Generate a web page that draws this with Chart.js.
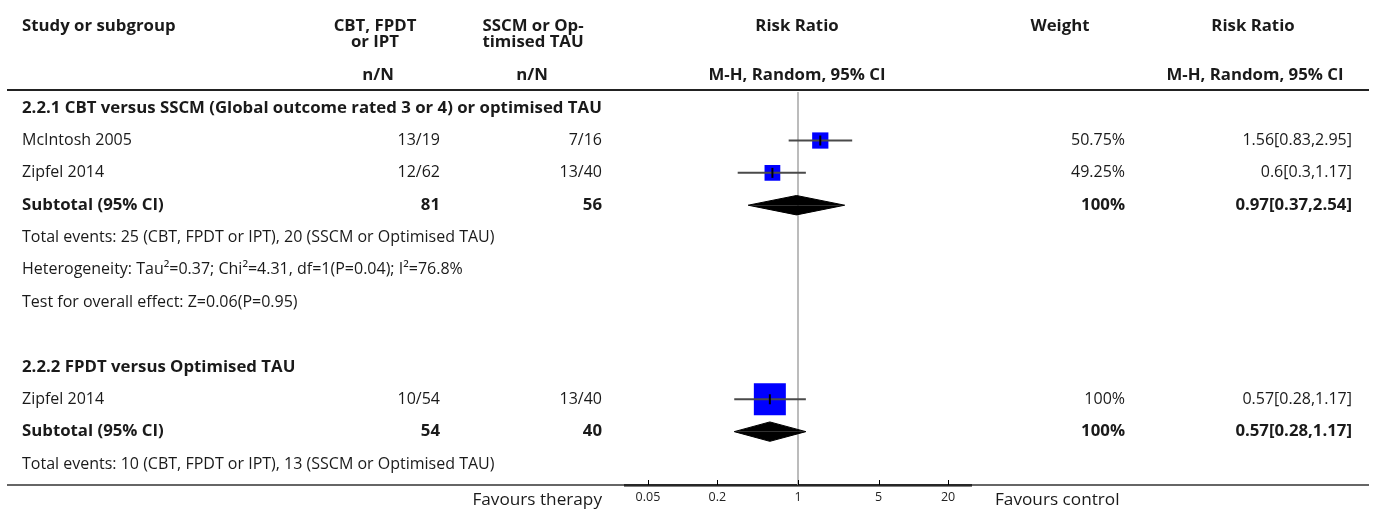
<!DOCTYPE html>
<html>
<head>
<meta charset="utf-8">
<title>Forest plot: CBT, FPDT or IPT versus SSCM or optimised TAU</title>
<script src="https://cdn.jsdelivr.net/npm/chart.js@4.4.1/dist/chart.umd.min.js"></script>
<style>
  html, body { margin: 0; padding: 0; background: #ffffff; }
  #wrap { width: 1375px; height: 510px; position: relative; }
</style>
</head>
<body>
<div id="wrap"><canvas id="forest" width="1375" height="510"></canvas></div>
<script>
// ---- study-level data ----
const studyNames   = ['McIntosh 2005', 'Zipfel 2014', 'Zipfel 2014'];
const studyRows    = [1, 2, 9];
const eventsTher   = ['13/19', '12/62', '10/54'];
const eventsCtrl   = ['7/16', '13/40', '13/40'];
const riskRatio    = [1.56, 0.6, 0.57];
const ciLower      = [0.83, 0.3, 0.28];
const ciUpper      = [2.95, 1.17, 1.17];
const weightPct    = [50.75, 49.25, 100];
const weightLabels = ['50.75%', '49.25%', '100%'];
const rrLabels     = ['1.56[0.83,2.95]', '0.6[0.3,1.17]', '0.57[0.28,1.17]'];

// ---- subgroup totals ----
const subRows      = [3, 10];
const subTotTher   = ['81', '54'];
const subTotCtrl   = ['56', '40'];
const subRR        = [0.97, 0.57];
const subLower     = [0.37, 0.28];
const subUpper     = [2.54, 1.17];
const subWeight    = ['100%', '100%'];
const subRRLabels  = ['0.97[0.37,2.54]', '0.57[0.28,1.17]'];

// ---- headings and notes ----
const headingRows  = [0, 8];
const headingTexts = ['2.2.1 CBT versus SSCM (Global outcome rated 3 or 4) or optimised TAU',
                      '2.2.2 FPDT versus Optimised TAU'];
const noteRows     = [4, 5, 6, 11];
const noteTexts    = ['Total events: 25 (CBT, FPDT or IPT), 20 (SSCM or Optimised TAU)',
                      'Heterogeneity: Tau\u00b2=0.37; Chi\u00b2=4.31, df=1(P=0.04); I\u00b2=76.8%',
                      'Test for overall effect: Z=0.06(P=0.95)',
                      'Total events: 10 (CBT, FPDT or IPT), 13 (SSCM or Optimised TAU)'];

// ---- axis ----
const axisTicks    = [0.05, 0.2, 1, 5, 20];
const axisMin      = Math.pow(10, -1.5);
const axisMax      = Math.pow(10, 1.5);
const favourLeft   = 'Favours therapy';
const favourRight  = 'Favours control';

const FONT = '"Open Sans", "Noto Sans", sans-serif';
const SIZE_REG = 16, SIZE_BOLD = 16.8, SIZE_FAV = 17.2;
const ROW_MIN = -0.5, ROW_MAX = 11.65;
const DIAMOND_HALF = 0.3;   // half-height of a summary diamond, in rows

// squares: side length grows with study weight
const squareRadius = w => (0.32 * w) / (2 * Math.SQRT1_2);

const datasets = [];

// centre tick of each study estimate (drawn on top)
datasets.push({
  label: 'estimate tick',
  data: riskRatio.map((v, i) => ({ x: v, y: studyRows[i] })),
  pointStyle: 'line',
  rotation: 90,
  pointRadius: 5,
  pointHoverRadius: 5,
  borderColor: '#000000',
  pointBorderWidth: 2,
  borderWidth: 2,
  showLine: false
});

// confidence intervals
riskRatio.forEach((v, i) => {
  datasets.push({
    label: 'ci ' + i,
    data: [{ x: ciLower[i], y: studyRows[i] }, { x: ciUpper[i], y: studyRows[i] }],
    showLine: true,
    borderColor: '#4a4a4a',
    borderWidth: 2,
    pointRadius: 0,
    tension: 0
  });
});

// weighted squares
datasets.push({
  label: 'study estimate',
  data: riskRatio.map((v, i) => ({ x: v, y: studyRows[i], w: weightPct[i] })),
  pointStyle: 'rect',
  pointRadius: ctx => squareRadius(ctx.raw ? ctx.raw.w : 0),
  pointHoverRadius: ctx => squareRadius(ctx.raw ? ctx.raw.w : 0),
  backgroundColor: '#0000ff',
  borderColor: '#0000ff',
  pointBorderWidth: 0,
  showLine: false
});

// summary diamonds, each built from an upper and a lower half
subRR.forEach((v, i) => {
  const r = subRows[i];
  [-DIAMOND_HALF, DIAMOND_HALF].forEach(off => {
    datasets.push({
      label: 'subtotal ' + i,
      data: [{ x: subLower[i], y: r }, { x: v, y: r + off }, { x: subUpper[i], y: r }],
      showLine: true,
      borderColor: '#000000',
      borderWidth: 1,
      backgroundColor: '#000000',
      fill: { value: r },
      pointRadius: 0,
      tension: 0
    });
  });
});

// line of no effect
datasets.push({
  label: 'no effect',
  data: [{ x: 1, y: ROW_MIN }, { x: 1, y: ROW_MAX }],
  showLine: true,
  borderColor: '#a6a6a6',
  borderWidth: 1.5,
  pointRadius: 0
});

function txt(ctx, s, x, y, align, bold, size) {
  ctx.save();
  ctx.font = (bold ? 'bold ' : '') + (size || (bold ? SIZE_BOLD : SIZE_REG)) + 'px ' + FONT;
  ctx.fillStyle = '#1a1a1a';
  ctx.textAlign = align || 'left';
  ctx.textBaseline = 'middle';
  ctx.fillText(s, x, y);
  ctx.restore();
}

const tablePlugin = {
  id: 'forestTable',
  beforeDatasetsDraw(chart) {
    const ctx = chart.ctx;
    const ys = chart.scales.y;
    const area = chart.chartArea;
    ctx.save();
    // header rule
    ctx.strokeStyle = '#222222';
    ctx.lineWidth = 2;
    ctx.beginPath(); ctx.moveTo(7, 90); ctx.lineTo(1369, 90); ctx.stroke();
    // bottom rule
    ctx.lineWidth = 1.5;
    ctx.strokeStyle = '#333333';
    ctx.beginPath(); ctx.moveTo(7, area.bottom); ctx.lineTo(1369, area.bottom); ctx.stroke();
    ctx.restore();

    // column headers
    txt(ctx, 'Study or subgroup', 22, 26, 'left', true);
    txt(ctx, 'CBT, FPDT', 375, 26, 'center', true);
    txt(ctx, 'or IPT', 375, 42, 'center', true);
    txt(ctx, 'SSCM or Op-', 533, 26, 'center', true);
    txt(ctx, 'timised TAU', 533, 42, 'center', true);
    txt(ctx, 'n/N', 378, 75, 'center', true);
    txt(ctx, 'n/N', 532, 75, 'center', true);
    txt(ctx, 'Risk Ratio', 797, 26, 'center', true);
    txt(ctx, 'M-H, Random, 95% CI', 797, 75, 'center', true);
    txt(ctx, 'Weight', 1060, 26, 'center', true);
    txt(ctx, 'Risk Ratio', 1253, 26, 'center', true);
    txt(ctx, 'M-H, Random, 95% CI', 1255, 75, 'center', true);

    headingRows.forEach((r, i) => txt(ctx, headingTexts[i], 22, ys.getPixelForValue(r), 'left', true));
    noteRows.forEach((r, i) => txt(ctx, noteTexts[i], 22, ys.getPixelForValue(r), 'left', false));

    studyRows.forEach((r, i) => {
      const y = ys.getPixelForValue(r);
      txt(ctx, studyNames[i], 22, y, 'left', false);
      txt(ctx, eventsTher[i], 440, y, 'right', false);
      txt(ctx, eventsCtrl[i], 602, y, 'right', false);
      txt(ctx, weightLabels[i], 1125, y, 'right', false);
      txt(ctx, rrLabels[i], 1352, y, 'right', false);
    });
    subRows.forEach((r, i) => {
      const y = ys.getPixelForValue(r);
      txt(ctx, 'Subtotal (95% CI)', 22, y, 'left', true);
      txt(ctx, subTotTher[i], 440, y, 'right', true);
      txt(ctx, subTotCtrl[i], 602, y, 'right', true);
      txt(ctx, subWeight[i], 1125, y, 'right', true);
      txt(ctx, subRRLabels[i], 1352, y, 'right', true);
    });

    txt(ctx, favourLeft, 602, 500, 'right', false, SIZE_FAV);
    txt(ctx, favourRight, 995, 500, 'left', false, SIZE_FAV);
  },
  afterDraw(chart) {
    const ctx = chart.ctx;
    const xs = chart.scales.x;
    const bottom = chart.chartArea.bottom;
    ctx.save();
    ctx.strokeStyle = '#000000';
    ctx.lineWidth = 1;
    axisTicks.forEach(v => {
      const x = Math.round(xs.getPixelForValue(v)) + 0.5;
      ctx.beginPath(); ctx.moveTo(x, bottom - 5); ctx.lineTo(x, bottom); ctx.stroke();
    });
    ctx.restore();
  }
};

new Chart(document.getElementById('forest'), {
  type: 'scatter',
  data: { datasets },
  plugins: [tablePlugin],
  options: {
    responsive: false,
    animation: false,
    events: [],
    layout: { padding: { left: 625, right: 404, top: 92, bottom: 0 } },
    plugins: { legend: { display: false }, tooltip: { enabled: false } },
    scales: {
      x: {
        type: 'logarithmic',
        min: axisMin,
        max: axisMax,
        afterBuildTicks: axis => { axis.ticks = axisTicks.map(v => ({ value: v })); },
        ticks: {
          autoSkip: false,
          maxRotation: 0,
          padding: 5,
          color: '#222222',
          font: { family: FONT, size: 12.5 },
          callback: v => String(v)
        },
        grid: { drawOnChartArea: false, drawTicks: false },
        border: { display: true, color: '#000000', width: 2.5 }
      },
      y: {
        type: 'linear',
        reverse: true,
        min: ROW_MIN,
        max: ROW_MAX,
        display: false
      }
    }
  }
});
</script>
</body>
</html>
